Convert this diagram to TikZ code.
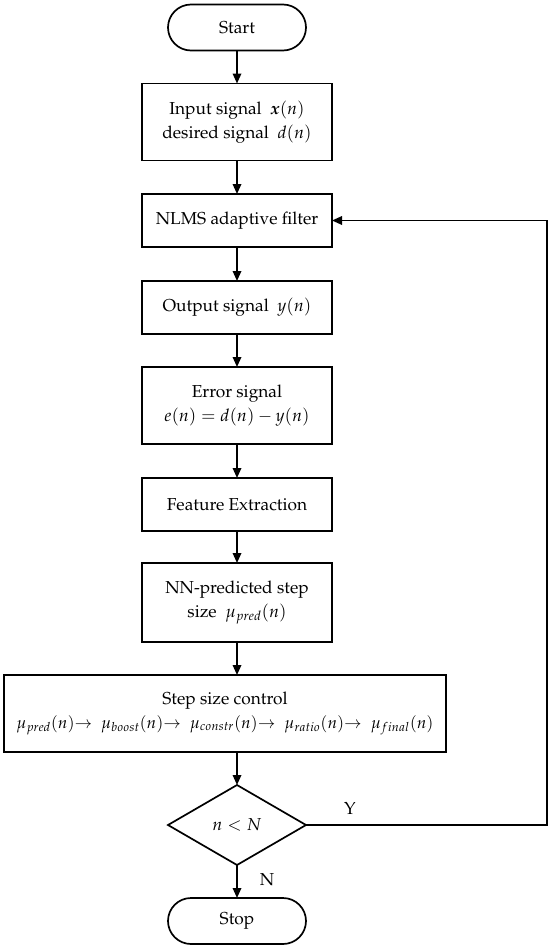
\documentclass[tikz,border=0pt]{standalone}
\usepackage{amsmath}
\usepackage[T1]{fontenc}
\usepackage{mathpazo}
\usetikzlibrary{shapes.geometric,shapes.misc,arrows.meta}
\begin{document}
\begin{tikzpicture}[x=1pt,y=-1pt,
  every node/.style={font=\fontsize{17.3}{24}\selectfont, align=center, inner sep=0pt, outer sep=0pt},
  box/.style={draw, line width=1.7pt, rectangle, minimum width=190pt},
  term/.style={draw, line width=1.7pt, rounded rectangle, minimum width=138pt, minimum height=46pt},
  dec/.style={draw, line width=1.7pt, diamond, minimum width=138pt, minimum height=80pt},
  arr/.style={line width=1.7pt, -{Triangle[length=10pt,width=8.5pt]}},
  lbl/.style={font=\fontsize{17.3}{20}\selectfont}
]
\useasboundingbox (0,0) rectangle (550,948);
\node[term] (start) at (237,27.5) {Start};
\node[box, minimum height=77pt] (in) at (237,122) {Input signal\ \ $\boldsymbol{x}(n)$\\desired signal\ \ $d(n)$};
\node[box, minimum height=53pt] (nlms) at (237,220.5) {NLMS adaptive filter};
\node[box, minimum height=53pt] (out) at (237,307.5) {Output signal\ \ $y(n)$};
\node[box, minimum height=77pt] (err) at (237,405.5) {Error signal\\$e(n)=d(n)-y(n)$};
\node[box, minimum height=53pt] (feat) at (237,504.5) {Feature Extraction};
\node[box, minimum height=79pt] (nn) at (237,602.5) {NN-predicted step\\size\ \ $\mu_{pred}(n)$};
\node[box, minimum width=442pt, minimum height=77pt] (ctrl) at (225,713.5) {Step size control\\{\fontsize{16.5}{24}\selectfont$\mu_{pred}(n){\rightarrow}\hspace{9pt}\mu_{boost}(n){\rightarrow}\hspace{9pt}\mu_{constr}(n){\rightarrow}\hspace{9pt}\mu_{ratio}(n){\rightarrow}\hspace{9pt}\mu_{final}(n)$}};
\node[dec] (cond) at (237,825) {$n<N$};
\node[term] (stop) at (237,921) {Stop};
\coordinate (loop) at (547,825);
\node[lbl] (ylab) at (350,809) {Y};
\node[lbl] (nlab) at (267,880) {N};

\draw[arr] (start) -- (in);
\draw[arr] (in) -- (nlms);
\draw[arr] (nlms) -- (out);
\draw[arr] (out) -- (err);
\draw[arr] (err) -- (feat);
\draw[arr] (feat) -- (nn);
\draw[arr] (nn.south) -- (nn.south |- ctrl.north);
\draw[arr] (ctrl.south -| cond.north) -- (cond.north);
\draw[arr] (cond) -- (stop);
\draw[arr] (cond.east) -- (loop) |- (nlms.east);
\end{tikzpicture}
\end{document}
